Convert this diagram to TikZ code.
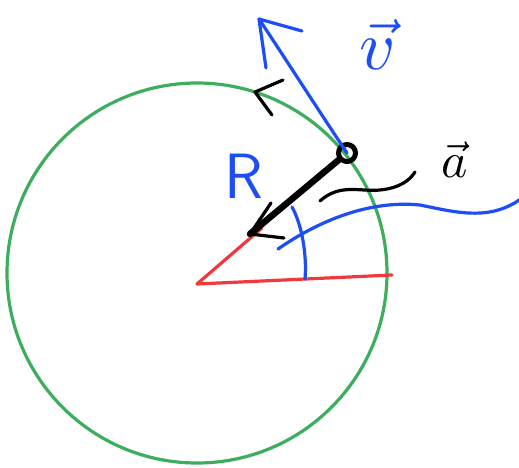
\documentclass[tikz,border=0pt]{standalone}
\usepackage{amsmath,amssymb}
\usepackage{tikz}
\usetikzlibrary{arrows.meta,positioning}
\usepackage{xcolor}
\definecolor{OrbitGreen}{HTML}{3DAE5E}
\definecolor{InkBlue}{HTML}{1D4DF5}
\definecolor{InkRed}{HTML}{F0393C}

\begin{document}
\begin{tikzpicture}[x=1pt,y=-1pt,>=Latex,
  pen/.style={line width=3.2pt,line cap=round,line join=round},
  bigtext/.style={font=\fontsize{#1}{#1}\selectfont,inner sep=0pt}]
  \useasboundingbox[fill=white] (0,0) rectangle (519,467);
  \coordinate (c) at (197,273);
  \coordinate (o) at (197,284);
  \coordinate (h) at (392,275);
  \coordinate (tip) at (250,234);
  \coordinate (vtip) at (259,19);
  \coordinate (r1) at (262,228);
  \draw[pen,OrbitGreen] (c) circle[radius=190];
  \draw[pen,InkRed] (o)--(r1);
  \draw[pen,InkRed] (o)--(h);
  \draw[pen,InkBlue] (305,279) .. controls (307,255) and (302,225) .. (292,207);
  \draw[pen,InkBlue] (278,249) .. controls (320,220) and (370,200) .. (420,205)
    .. controls (455,212) and (490,222) .. (522,198);
  \node[circle,draw,line width=5pt,minimum size=17pt,inner sep=0pt] (p) at (347,153) {};
  \draw[pen,InkBlue] (p.center) .. controls (315,105) and (283,55) .. (vtip);
  \draw[pen,InkBlue] (266,68)--(vtip)--(302,31);
  \draw[line width=6.5pt,line cap=round] (p) -- (tip);
  \draw[pen] (271,203)--(tip)--(284,238);
  \draw[pen] (283,80)--(255,92)--(272,115);
  \node[InkBlue,inner sep=0pt] (vlab) at (378,44) {\scalebox{7}{$\vec{v}$}};
  \node[bigtext=64,InkBlue] (rlab) at (244,176) {\sffamily R};
  \node[inner sep=0pt] (alab) at (455,160) {\scalebox{5}{$\vec{a}$}};
  \coordinate (aend) at (415,172);
  \draw[pen] (320,201) .. controls (340,183) and (360,192) .. (380,190)
    .. controls (400,188) and (410,180) .. (aend);
\end{tikzpicture}
\end{document}
